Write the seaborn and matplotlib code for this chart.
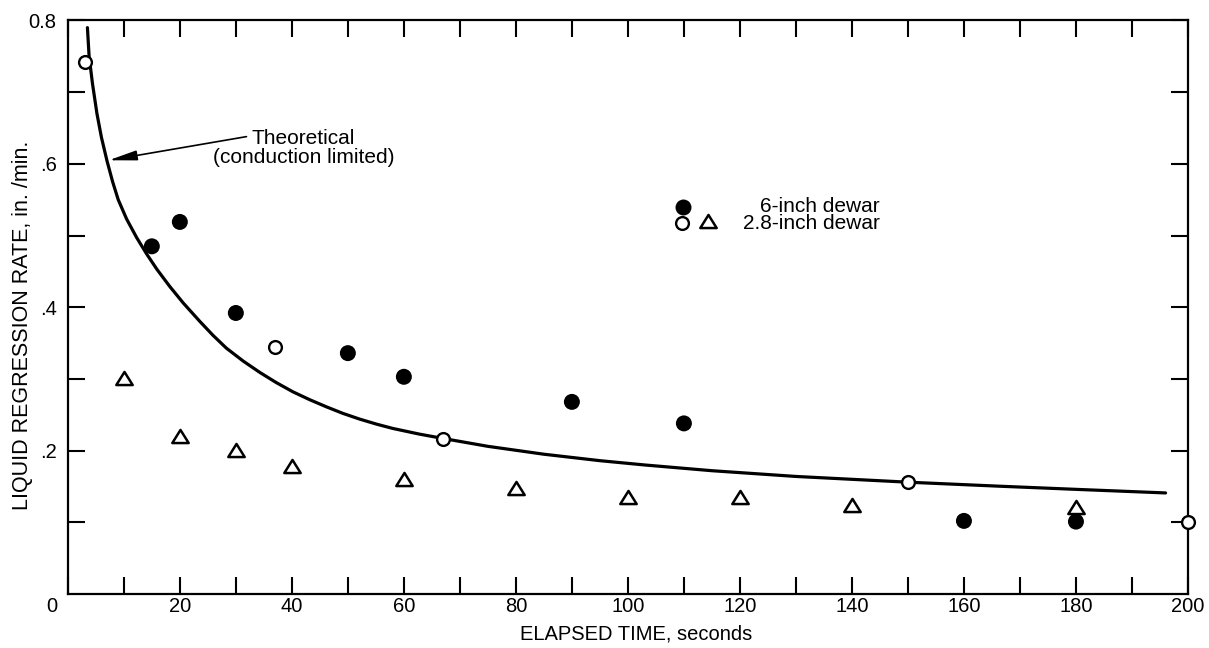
import matplotlib
matplotlib.use("Agg")
import matplotlib.pyplot as plt
import numpy as np
import pandas as pd
import seaborn as sns
from matplotlib.offsetbox import DrawingArea, AnchoredOffsetbox
from matplotlib.lines import Line2D
from matplotlib.text import Text
from matplotlib.path import Path
from matplotlib.ticker import FixedLocator
from matplotlib.transforms import ScaledTranslation

# --- data -------------------------------------------------------------
# Theoretical (conduction limited) regression-rate curve
theory_t = [3.5, 3.8, 4.4, 5.2, 6.0, 7.0, 8.0, 9.0, 10.5, 12.3, 14.1, 15.9,
            18.2, 20.6, 23.6, 25.9, 28.3, 31.3, 34.3, 37.2, 40.2, 43.2,
            46.2, 49.1, 52.1, 55.1, 58.0, 62.8, 67, 75, 85, 95, 103, 115,
            130, 150, 166, 180, 196]
theory_rate = [0.790, 0.750, 0.712, 0.670, 0.637, 0.604, 0.575, 0.550,
               0.523, 0.497, 0.474, 0.453, 0.429, 0.406, 0.380, 0.361,
               0.343, 0.325, 0.309, 0.295, 0.282, 0.271, 0.261, 0.252,
               0.244, 0.237, 0.231, 0.223, 0.217, 0.206, 0.195, 0.186,
               0.180, 0.172, 0.164, 0.156, 0.1505, 0.146, 0.141]

# 6-inch dewar (filled circles)
six_t = [15, 20, 30, 50, 60, 90, 110, 160, 180]
six_rate = [0.485, 0.519, 0.392, 0.336, 0.303, 0.268, 0.238, 0.102, 0.101]

# 2.8-inch dewar, circles
small_circ_t = [3, 37, 67, 150, 200]
small_circ_rate = [0.742, 0.345, 0.216, 0.156, 0.101]

# 2.8-inch dewar, triangles
small_tri_t = [10, 20, 30, 40, 60, 80, 100, 120, 140, 180]
small_tri_rate = [0.301, 0.220, 0.201, 0.178, 0.161, 0.148, 0.135, 0.135,
                  0.124, 0.121]

x_major = [0, 20, 40, 60, 80, 100, 120, 140, 160, 180, 200]
x_minor = [10, 30, 50, 70, 90, 110, 130, 150, 170, 190]
y_major = [0.2, 0.4, 0.6, 0.8]
y_major_labels = [".2", ".4", ".6", "0.8"]
y_minor = [0.1, 0.3, 0.5, 0.7]

# --- style ------------------------------------------------------------
sns.set_theme(style="ticks")
plt.rcParams["font.family"] = ["Liberation Sans", "DejaVu Sans"]
plt.rcParams["axes.edgecolor"] = "black"

fig = plt.figure(figsize=(12.09, 6.48), dpi=100)
ax = fig.add_axes([0.0561, 0.0833, 0.9265, 0.8851])

theory = pd.DataFrame({"t": theory_t, "rate": theory_rate})
sns.lineplot(data=theory, x="t", y="rate", sort=False, estimator=None,
             color="black", linewidth=2.3, ax=ax, zorder=2)

tri_marker = Path([(-1, -0.8), (1, -0.8), (0, 0.8), (-1, -0.8)],
                  [Path.MOVETO, Path.LINETO, Path.LINETO, Path.CLOSEPOLY])

sns.scatterplot(x=six_t, y=six_rate, marker="o", s=11.5 ** 2,
                color="black", edgecolor="none", linewidth=0,
                zorder=4, clip_on=False, ax=ax)
sns.scatterplot(x=small_circ_t, y=small_circ_rate, marker="o", s=9.2 ** 2,
                color="white", edgecolor="black", linewidth=1.7,
                zorder=4, clip_on=False, ax=ax)
sns.scatterplot(x=small_tri_t, y=small_tri_rate, marker=tri_marker,
                s=11.8 ** 2, color="white", edgecolor="black",
                linewidth=1.8, zorder=4, clip_on=False, ax=ax)

# --- axes -------------------------------------------------------------
ax.set_xlim(0, 200)
ax.set_ylim(0, 0.8)
ax.xaxis.set_major_locator(FixedLocator(x_major))
ax.xaxis.set_minor_locator(FixedLocator(x_minor))
ax.set_xticklabels([str(v) for v in x_major])
ax.yaxis.set_major_locator(FixedLocator(y_major))
ax.yaxis.set_minor_locator(FixedLocator(y_minor))
ax.set_yticklabels(y_major_labels)

for side in ["left", "right", "top", "bottom"]:
    ax.spines[side].set_visible(True)
    ax.spines[side].set_linewidth(1.6)
    ax.spines[side].set_color("black")

ax.tick_params(which="both", direction="in", length=12.2, width=1.5,
               color="black", top=True, right=True, labelsize=14.5,
               labelcolor="black")
ax.tick_params(axis="x", which="both", pad=2)
ax.tick_params(axis="y", which="both", pad=8)

# origin label sits a little left of the corner
zero_lbl = ax.xaxis.get_major_ticks()[0].label1
zero_lbl.set_transform(zero_lbl.get_transform()
                       + ScaledTranslation(-0.16, 0, fig.dpi_scale_trans))

ax.set_xlabel("ELAPSED TIME, seconds", fontsize=14.5, color="black")
ax.xaxis.set_label_coords(0.507, -0.054)
ax.set_ylabel("LIQUID REGRESSION RATE, in. /min.", fontsize=15.5,
              color="black")
ax.yaxis.set_label_coords(-0.031, 0.469)

# --- annotation -------------------------------------------------------
ax.annotate("", xy=(7.3, 0.605), xytext=(31.9, 0.638),
            arrowprops=dict(arrowstyle="-|>,head_length=1.7,head_width=0.3",
                            color="black", lw=1.2, mutation_scale=10,
                            shrinkA=0, shrinkB=0))
ax.text(42.1, 0.622, "Theoretical\n(conduction limited)", ha="center",
        va="center", ma="center", fontsize=15, linespacing=1.0,
        color="black")

# --- key --------------------------------------------------------------
da = DrawingArea(160, 30, 0, 0, clip=False)
da.add_artist(Line2D([9.1], [21.6], marker="o", markersize=11.5,
                     markerfacecolor="black", markeredgewidth=0,
                     linestyle="none"))
da.add_artist(Line2D([8.4], [10.2], marker="o", markersize=9.2,
                     markerfacecolor="white", markeredgecolor="black",
                     markeredgewidth=1.7, linestyle="none"))
da.add_artist(Line2D([27.6], [11.4], marker=tri_marker, markersize=11.8,
                     markerfacecolor="white", markeredgecolor="black",
                     markeredgewidth=1.8, linestyle="none"))
da.add_artist(Text(151.2, 18.0, "6-inch dewar", ha="right", va="baseline",
                   fontsize=15, color="black",
                   fontfamily=["Liberation Sans", "DejaVu Sans"]))
da.add_artist(Text(151.2, 6.0, "2.8-inch dewar", ha="right", va="baseline",
                   fontsize=15, color="black",
                   fontfamily=["Liberation Sans", "DejaVu Sans"]))
key = AnchoredOffsetbox(loc="upper left", child=da, pad=0, borderpad=0,
                        frameon=False, bbox_to_anchor=(0.5377, 0.6951),
                        bbox_transform=ax.transAxes)
ax.add_artist(key)

fig.savefig("out.png", dpi=100)
